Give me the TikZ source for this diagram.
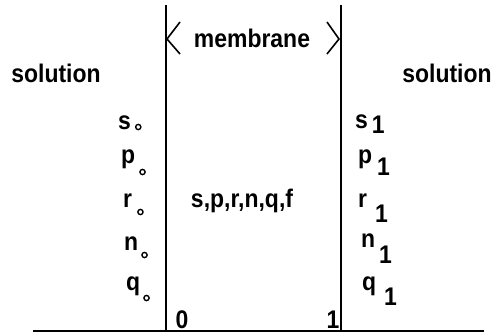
\documentclass[tikz,border=0pt]{standalone}
\usepackage{fontspec}
\setmainfont{Liberation Sans}[FakeStretch=0.9]
\begin{document}
\begin{tikzpicture}[x=1pt,y=-1pt,
  wall/.style={line width=1.8pt},
  lbl/.style={font=\fontsize{25.5}{28}\bfseries\selectfont, inner sep=0pt},
  brk/.style={line width=1.6pt}]
\useasboundingbox (0,0) rectangle (498,333);
% subscript circle: #1 = gap, #2 = raise of its centre above the baseline
\newcommand{\zs}[2]{\hspace{#1}\raisebox{#2}{\tikz[baseline=0pt]\draw[line width=1.4pt] (0,0) circle (2.6pt);}}
% subscript one: #1 = gap, #2 = raise
\newcommand{\os}[2]{\hspace{#1}\raisebox{#2}{1}}
% walls
\coordinate (lt) at (166,5);
\coordinate (lb) at (166,331);
\coordinate (rt) at (341,5);
\coordinate (rb) at (341,331);
\coordinate (bl) at (33,331);
\coordinate (br) at (484,331);
\draw[wall] (lt) -- (lb);
\draw[wall] (rt) -- (rb);
\draw[wall] (bl) -- (br);
% membrane label with brackets
\node[lbl,anchor=base] (mem) at (252,47) {membrane};
\coordinate (la1) at (180,22);
\coordinate (la2) at (167,39);
\coordinate (la3) at (180,54);
\draw[brk] (la1) -- (la2) -- (la3);
\coordinate (ra1) at (327,22);
\coordinate (ra2) at (339,39);
\coordinate (ra3) at (327,54);
\draw[brk] (ra1) -- (ra2) -- (ra3);
% solutions
\node[lbl,anchor=base] (solL) at (56,82) {solution};
\node[lbl,anchor=base] (solR) at (447,82) {solution};
% left concentrations
\node[lbl,anchor=base west] (s0) at (118,129) {s\zs{4pt}{2pt}};
\node[lbl,anchor=base west] (p0) at (121,163) {p\zs{4pt}{-9pt}};
\node[lbl,anchor=base west] (r0) at (123,207) {r\zs{5pt}{-5pt}};
\node[lbl,anchor=base west] (n0) at (124,250) {n\zs{3pt}{-5pt}};
\node[lbl,anchor=base west] (q0) at (126,290) {q\zs{3pt}{-8pt}};
% right concentrations
\node[lbl,anchor=base west] (s1) at (355,128) {s\os{4pt}{-5pt}};
\node[lbl,anchor=base west] (p1) at (358,163) {p\os{5pt}{-12pt}};
\node[lbl,anchor=base west] (r1) at (358,207) {r\os{8pt}{-15pt}};
\node[lbl,anchor=base west] (n1) at (361,247) {n\os{4pt}{-16pt}};
\node[lbl,anchor=base west] (q1) at (362,290) {q\os{8pt}{-15pt}};
% centre
\node[lbl,anchor=base] (mid) at (242,207) {s,p,r,n,q,f};
\node[lbl,anchor=base] (z) at (182,328) {0};
\node[lbl,anchor=base] (one) at (333,328) {1};
\end{tikzpicture}
\end{document}
